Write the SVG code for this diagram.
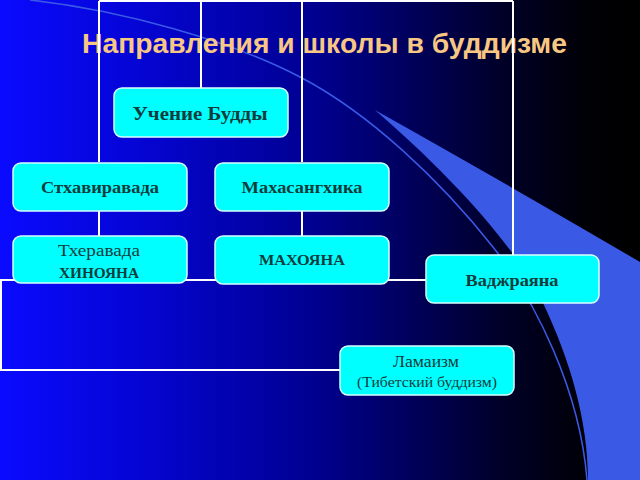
<svg xmlns="http://www.w3.org/2000/svg" width="640" height="480" viewBox="0 0 640 480">
<defs>
<linearGradient id="bg" x1="0" y1="0" x2="1" y2="0">
<stop offset="0" stop-color="#0a0aff"/>
<stop offset="0.2" stop-color="#0505d8"/>
<stop offset="0.5" stop-color="#00008e"/>
<stop offset="0.78" stop-color="#00002a"/>
<stop offset="0.92" stop-color="#000005"/>
<stop offset="1" stop-color="#000000"/>
</linearGradient>
<style>
.node{fill:#00ffff;stroke:#d8ffff;stroke-width:1.5}
.t{font-family:"Liberation Serif","Times New Roman",serif;fill:#123c3c;text-anchor:middle}
.b{font-weight:bold}
.conn{stroke:#ffffff;stroke-width:2;fill:none}
</style>
</defs>
<rect x="0" y="0" width="640" height="480" fill="url(#bg)"/>
<path d="M375,110 Q500,180 640,262 L640,480 L588,480 C588,420 570,360 543,303 C515,245 450,175 375,110 Z" fill="#3a5ae6"/>
<path d="M30,0 C120,10 230,40 302,78 C370,114 440,180 493,247 C535,300 580,390 587,480" fill="none" stroke="#3a5ae6" stroke-width="1.5"/>
<text x="82" y="53" textLength="485" lengthAdjust="spacingAndGlyphs" font-family="'Liberation Sans',Arial,sans-serif" font-weight="bold" font-size="27" fill="#f9c784">Направления и школы в буддизме</text>
<g id="connectors" class="conn">
<path d="M99,1 H513"/>
<path d="M99,1 V162"/>
<path d="M201,1 V88"/>
<path d="M302,1 V162"/>
<path d="M513,1 V255"/>
<path d="M99,211 V236"/>
<path d="M302,211 V236"/>
<path d="M0,280 H426"/>
<path d="M1,280 V370"/>
<path d="M0,370 H340"/>
</g>
<g id="node-uchenie">
<rect class="node" x="114" y="88" width="174" height="49" rx="8"/>
<text class="t b" x="200" y="120" font-size="19" textLength="135" lengthAdjust="spacingAndGlyphs">Учение Будды</text>
</g>
<g id="node-sthaviravada">
<rect class="node" x="13" y="163" width="174" height="48" rx="8"/>
<text class="t b" x="100" y="193" font-size="17" textLength="118" lengthAdjust="spacingAndGlyphs">Стхавиравада</text>
</g>
<g id="node-mahasanghika">
<rect class="node" x="215" y="163" width="174" height="48" rx="8"/>
<text class="t b" x="302" y="193" font-size="17" textLength="121" lengthAdjust="spacingAndGlyphs">Махасангхика</text>
</g>
<g id="node-theravada">
<rect class="node" x="13" y="236" width="174" height="47" rx="8"/>
<text class="t" x="99" y="256" font-size="16" textLength="82" lengthAdjust="spacingAndGlyphs">Тхеравада</text>
<text class="t b" x="99" y="278" font-size="15" textLength="80" lengthAdjust="spacingAndGlyphs">ХИНОЯНА</text>
</g>
<g id="node-mahoyana">
<rect class="node" x="215" y="236" width="174" height="48" rx="8"/>
<text class="t b" x="302" y="265" font-size="14" textLength="86" lengthAdjust="spacingAndGlyphs">МАХОЯНА</text>
</g>
<g id="node-vajrayana">
<rect class="node" x="426" y="255" width="173" height="48" rx="8"/>
<text class="t b" x="512" y="286" font-size="17" textLength="93" lengthAdjust="spacingAndGlyphs">Ваджраяна</text>
</g>
<g id="node-lamaizm">
<rect class="node" x="340" y="346" width="174" height="49" rx="8"/>
<text class="t" x="426" y="367" font-size="16" textLength="66" lengthAdjust="spacingAndGlyphs">Ламаизм</text>
<text class="t" x="427" y="387" font-size="15" textLength="140" lengthAdjust="spacingAndGlyphs">(Тибетский буддизм)</text>
</g>
</svg>
